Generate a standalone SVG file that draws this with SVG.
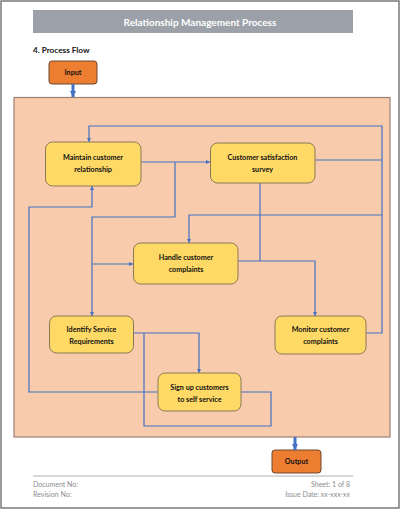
<svg xmlns="http://www.w3.org/2000/svg" width="400" height="509" viewBox="0 0 400 509">
<defs>
<style>
.node rect{fill:#ffd966;stroke:#8a7a55;stroke-width:1}
.node text,.io text{font-family:Lato,"Open Sans",sans-serif;font-weight:bold;font-size:7.2px;fill:#111;text-anchor:middle}
.io rect{fill:#ed7d31;stroke:#6b4a30;stroke-width:1}
.conn path{fill:none;stroke:#4472c4;stroke-width:1.2}
.foot{font-family:Lato,"Open Sans",sans-serif;font-size:7px;fill:#8c8c8c}
</style>
<marker id="arr" viewBox="0 0 10 10" refX="10" refY="5" markerWidth="4" markerHeight="4" markerUnits="userSpaceOnUse" orient="auto">
<path d="M0,0 L10,5 L0,10 z" fill="#4472c4"/>
</marker>
<marker id="big" viewBox="0 0 10 10" refX="10" refY="5" markerWidth="6" markerHeight="6" markerUnits="userSpaceOnUse" orient="auto">
<path d="M0,0 L10,5 L0,10 z" fill="#4472c4"/>
</marker>
</defs>
<rect x="0" y="0" width="400" height="509" fill="#ffffff"/>
<rect x="1" y="1" width="398" height="507" fill="none" stroke="#7a7a7a" stroke-width="1.5"/>
<g id="header">
<rect x="33" y="10" width="320" height="23" fill="#9ca1a9"/>
<text x="200" y="25.5" font-family="Lato,'Open Sans',sans-serif" font-weight="bold" font-size="10" fill="#ffffff" text-anchor="middle">Relationship Management Process</text>
<text x="33" y="52.5" font-family="Lato,'Open Sans',sans-serif" font-weight="bold" font-size="8.2" fill="#111">4. Process Flow</text>
</g>
<g id="container">
<rect x="14" y="97.5" width="376" height="339.5" fill="#f8cbad" stroke="#9c8072" stroke-width="1.2"/>
</g>
<g id="input" class="io">
<rect x="49" y="61" width="48" height="23" rx="3"/>
<text x="73" y="75">Input</text>
</g>
<g id="output" class="io">
<rect x="272" y="450" width="49" height="23" rx="3"/>
<text x="296.5" y="464">Output</text>
</g>
<g id="connectors" class="conn">
<path d="M73,84 V97" marker-end="url(#big)" style="stroke-width:3"/>
<path d="M295,437 V450" marker-end="url(#big)" style="stroke-width:3"/>
<path d="M366,333 H382 V126 H89 V142" marker-end="url(#arr)"/>
<path d="M141,162 H210" marker-end="url(#arr)"/>
<path d="M175,162 V217 H92 V316" marker-end="url(#arr)"/>
<path d="M92,264 H133" marker-end="url(#arr)"/>
<path d="M315,160 H382"/>
<path d="M382,215 H189 V243" marker-end="url(#arr)"/>
<path d="M260,183 V261"/>
<path d="M238,261 H315 V316" marker-end="url(#arr)"/>
<path d="M134,333 H199 V373" marker-end="url(#arr)"/>
<path d="M241,392 H271 V426 H144 V333"/>
<path d="M158,392 H29 V207 H92 V186" marker-end="url(#arr)"/>
</g>
<g id="maintain" class="node">
<rect x="45.5" y="142" width="95.5" height="44" rx="7"/>
<text x="93" y="160">Maintain customer</text>
<text x="93" y="171.5">relationship</text>
</g>
<g id="survey" class="node">
<rect x="210.5" y="143" width="104.5" height="40" rx="7"/>
<text x="262.5" y="159.5">Customer satisfaction</text>
<text x="262.5" y="171.5">survey</text>
</g>
<g id="handle" class="node">
<rect x="133.5" y="243" width="104.5" height="41" rx="7"/>
<text x="186" y="259.5">Handle customer</text>
<text x="186" y="271.5">complaints</text>
</g>
<g id="identify" class="node">
<rect x="49.5" y="316" width="84" height="37" rx="7"/>
<text x="91.5" y="331.5">Identify Service</text>
<text x="91.5" y="343.5">Requirements</text>
</g>
<g id="monitor" class="node">
<rect x="275" y="316" width="91" height="38" rx="7"/>
<text x="320.5" y="331.5">Monitor customer</text>
<text x="320.5" y="343.5">complaints</text>
</g>
<g id="signup" class="node">
<rect x="158" y="373" width="83" height="38" rx="7"/>
<text x="199.5" y="389.5">Sign up customers</text>
<text x="199.5" y="401.5">to self service</text>
</g>
<g id="footer">
<line x1="33" y1="476" x2="353" y2="476" stroke="#b0b0b0" stroke-width="1"/>
<text class="foot" x="33" y="486.5">Document No:</text>
<text class="foot" x="33" y="496.5">Revision No:</text>
<text class="foot" x="350" y="486.5" text-anchor="end">Sheet: 1 of 8</text>
<text class="foot" x="350" y="496.5" text-anchor="end">Issue Date: xx-xxx-xx</text>
</g>
</svg>
